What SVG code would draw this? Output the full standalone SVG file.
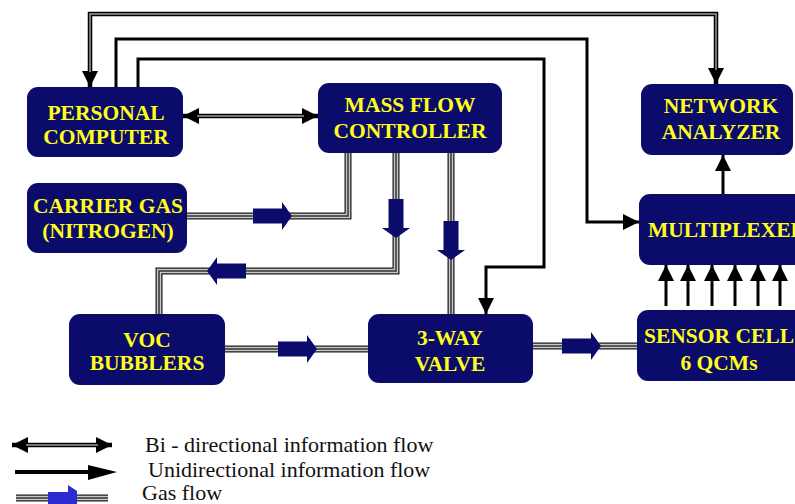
<svg xmlns="http://www.w3.org/2000/svg" width="795" height="504" viewBox="0 0 795 504">
<style>
.box{fill:#0b0b6c;}
.lbl{font-family:"Liberation Serif","Times New Roman",serif;font-weight:bold;font-size:21.5px;fill:#ffff1a;text-anchor:middle;}
.leg{font-family:"Liberation Serif","Times New Roman",serif;font-size:22px;fill:#111;}
.info{fill:none;stroke:#000;stroke-width:3;}
.bi{fill:none;stroke:#000;stroke-width:4.5;}
.bic{fill:none;stroke:#9a9a9a;stroke-width:1.5;}
.g1{fill:none;stroke:#1a1a1a;stroke-width:7;}
.g2{fill:none;stroke:#c8c8c8;stroke-width:4.5;}
.g3{fill:none;stroke:#333;stroke-width:1.5;}
.garrow{fill:#0b0b6c;}
</style>
<defs>
<marker id="ah" markerUnits="userSpaceOnUse" markerWidth="16" markerHeight="16" refX="14" refY="7" orient="auto-start-reverse" viewBox="0 0 14 14">
<path d="M0,0 L14,7 L0,14 Z" fill="#000"/>
</marker>
<path id="ga" d="M0,-7.5 H29 V-14 L39,0 L29,14 V7.5 H0 Z"/>
</defs>

<g id="connectors">
<g id="gas-lines">
<path class="g1" d="M187,216 H348 V153"/><path class="g2" d="M187,216 H348 V153"/><path class="g3" d="M187,216 H348 V153"/>
<path class="g1" d="M396,153 V271 H159 V314"/><path class="g2" d="M396,153 V271 H159 V314"/><path class="g3" d="M396,153 V271 H159 V314"/>
<path class="g1" d="M451,153 V314"/><path class="g2" d="M451,153 V314"/><path class="g3" d="M451,153 V314"/>
<path class="g1" d="M225,349 H368"/><path class="g2" d="M225,349 H368"/><path class="g3" d="M225,349 H368"/>
<path class="g1" d="M533,346 H637"/><path class="g2" d="M533,346 H637"/><path class="g3" d="M533,346 H637"/>
</g>
<g id="gas-arrows" class="garrow">
<use href="#ga" transform="translate(253,216)"/>
<use href="#ga" transform="translate(246,271) rotate(180)"/>
<use href="#ga" transform="translate(396,199) rotate(90)"/>
<use href="#ga" transform="translate(451,221) rotate(90)"/>
<use href="#ga" transform="translate(278,349)"/>
<use href="#ga" transform="translate(562,346)"/>
</g>
<path class="bi" d="M90,87 V14 H716 V84" marker-start="url(#ah)" marker-end="url(#ah)"/>
<path class="bic" d="M90,72 V14 H716 V70"/>
<path class="bi" d="M183,116 H318" marker-start="url(#ah)" marker-end="url(#ah)"/>
<path class="bic" d="M197,116 H304"/>
<path class="info" d="M116,87 V39 H587 V222 H639" marker-end="url(#ah)"/>
<path class="info" d="M138,87 V59 H544 V267 H486 V314" marker-end="url(#ah)"/>
<path class="info" d="M723,194 V155" marker-end="url(#ah)"/>
<path class="info" d="M666,306 V265" marker-end="url(#ah)"/>
<path class="info" d="M688,306 V265" marker-end="url(#ah)"/>
<path class="info" d="M712,306 V265" marker-end="url(#ah)"/>
<path class="info" d="M735,306 V265" marker-end="url(#ah)"/>
<path class="info" d="M758,306 V265" marker-end="url(#ah)"/>
<path class="info" d="M780,306 V265" marker-end="url(#ah)"/>
</g>

<g id="pc"><rect class="box" x="27" y="87" width="156" height="70" rx="11"/>
<text class="lbl" x="106" y="120">PERSONAL</text><text class="lbl" x="106" y="144">COMPUTER</text></g>
<g id="mfc"><rect class="box" x="318" y="83" width="184" height="70" rx="11"/>
<text class="lbl" x="410" y="112">MASS FLOW</text><text class="lbl" x="410" y="138">CONTROLLER</text></g>
<g id="na"><rect class="box" x="641" y="84" width="152" height="71" rx="11"/>
<text class="lbl" x="721" y="113">NETWORK</text><text class="lbl" x="721" y="139">ANALYZER</text></g>
<g id="carrier"><rect class="box" x="27" y="183" width="160" height="70" rx="11"/>
<text class="lbl" x="108" y="213">CARRIER GAS</text><text class="lbl" x="108" y="238">(NITROGEN)</text></g>
<g id="mux"><rect class="box" x="639" y="194" width="180" height="71" rx="11"/>
<text class="lbl" x="727" y="237">MULTIPLEXER</text></g>
<g id="voc"><rect class="box" x="69" y="314" width="156" height="71" rx="11"/>
<text class="lbl" x="147" y="347">VOC</text><text class="lbl" x="147" y="370">BUBBLERS</text></g>
<g id="valve"><rect class="box" x="368" y="314" width="165" height="69" rx="11"/>
<text class="lbl" x="450" y="345">3-WAY</text><text class="lbl" x="450" y="371">VALVE</text></g>
<g id="sensor"><rect class="box" x="637" y="310" width="170" height="71" rx="11"/>
<text class="lbl" x="719" y="343">SENSOR CELL</text><text class="lbl" x="719" y="370">6 QCMs</text></g>

<g id="legend">
<path class="bi" d="M12,445 H112" marker-start="url(#ah)" marker-end="url(#ah)"/>
<path class="bic" d="M26,445 H98"/>
<path d="M15,472 H100" stroke="#000" stroke-width="4"/>
<path d="M88,465 L117,472 L88,480 Z" fill="#000"/>
<path class="g1" d="M16,498 H108"/><path class="g2" d="M16,498 H108"/><path class="g3" d="M16,498 H108"/>
<path d="M48,492 H68 V485 L77,491 V505 L68,511 V504 H48 Z" fill="#2b2bd0"/>
<text class="leg" x="145" y="452">Bi - directional information flow</text>
<text class="leg" x="148" y="477">Unidirectional information flow</text>
<text class="leg" x="142" y="500">Gas flow</text>
</g>
</svg>
